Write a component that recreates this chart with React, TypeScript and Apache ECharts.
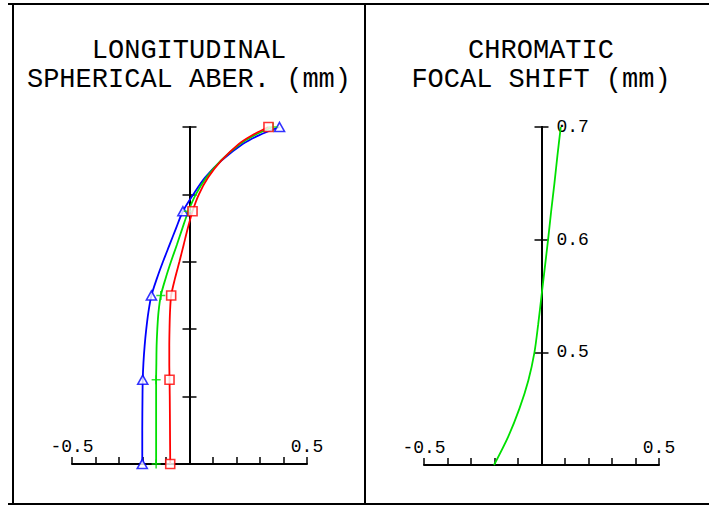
import React, { useEffect, useRef } from 'react';
import * as echarts from 'echarts';

// ---- Longitudinal spherical aberration (normalized pupil vs focus shift, mm)
const pupil = [0, 0.1, 0.2, 0.25, 0.3, 0.35, 0.4, 0.45, 0.5, 0.55, 0.6, 0.65, 0.7, 0.75, 0.8, 0.85, 0.9, 0.95, 0.975, 1.0];
const blueShift = [-0.201, -0.201, -0.2, -0.199, -0.196, -0.191, -0.184, -0.175, -0.162, -0.139, -0.113, -0.085, -0.057, -0.028, 0.016, 0.066, 0.136, 0.228, 0.295, 0.383];
const greenShift = [-0.142, -0.142, -0.142, -0.142, -0.141, -0.14, -0.137, -0.132, -0.122, -0.102, -0.079, -0.054, -0.03, -0.005, 0.027, 0.072, 0.133, 0.216, 0.275, 0.355];
const redShift = [-0.082, -0.083, -0.084, -0.085, -0.086, -0.086, -0.085, -0.083, -0.078, -0.062, -0.043, -0.025, -0.007, 0.013, 0.04, 0.079, 0.135, 0.21, 0.265, 0.336];
const markerPupil = [0, 0.25, 0.5, 0.75, 1.0];

// ---- Chromatic focal shift (wavelength um vs focus shift, mm)
const wavelength = [0.4, 0.425, 0.45, 0.475, 0.5, 0.525, 0.55, 0.575, 0.6, 0.625, 0.65, 0.675, 0.7];
const focalShift = [-0.202, -0.142, -0.094, -0.056, -0.03, -0.014, 0.0, 0.014, 0.028, 0.041, 0.055, 0.068, 0.082];

const titleLeft = ['LONGITUDINAL', 'SPHERICAL ABER. (mm)'];
const titleRight = ['CHROMATIC', 'FOCAL SHIFT (mm)'];

const FONT = '"Liberation Mono", "DejaVu Sans Mono", monospace';
const BLUE = '#0000ff';
const GREEN = '#00e000';
const RED = '#ff0000';

const GRID_W = 235;

function xAxisFor(gridIndex: number) {
  return {
    type: 'value',
    gridIndex,
    min: -0.5,
    max: 0.5,
    interval: 0.1,
    position: 'bottom',
    axisLine: { show: true, onZero: false, lineStyle: { color: '#000', width: 2 } },
    axisTick: { show: true, inside: true, length: 7, lineStyle: { color: '#000', width: 1.5 } },
    axisLabel: {
      show: true,
      inside: true,
      margin: 8,
      color: '#000',
      fontFamily: FONT,
      fontSize: 18,
      formatter: (v: number) => (Math.abs(Math.abs(v) - 0.5) < 1e-6 ? v.toFixed(1) : ''),
    },
    splitLine: { show: false },
  };
}

function yAxisFor(gridIndex: number, min: number, max: number, interval: number, inside: boolean, labels: boolean) {
  return {
    type: 'value',
    gridIndex,
    min,
    max,
    interval,
    position: 'left',
    offset: -GRID_W / 2,
    axisLine: { show: true, onZero: false, lineStyle: { color: '#000', width: 2 } },
    axisTick: { show: true, inside, length: 7, lineStyle: { color: '#000', width: 1.5 } },
    axisLabel: labels
      ? {
          show: true,
          inside: true,
          margin: 15,
          color: '#000',
          fontFamily: FONT,
          fontSize: 18,
          formatter: (v: number) => (v > min + 1e-6 ? v.toFixed(1) : ''),
        }
      : { show: false },
    splitLine: { show: false },
  };
}

function curve(xs: number[]) {
  return pupil.map((p, i) => [xs[i], p]);
}
function marks(xs: number[]) {
  return pupil
    .map((p, i) => (markerPupil.indexOf(p) >= 0 ? [xs[i], p] : null))
    .filter((d) => d !== null);
}

function lineSeries(xs: number[], color: string) {
  return {
    type: 'line',
    xAxisIndex: 0,
    yAxisIndex: 0,
    data: curve(xs),
    smooth: 0.3,
    symbol: 'none',
    showSymbol: false,
    silent: true,
    lineStyle: { color, width: 1.8 },
    z: 3,
  };
}

function markerSeries(xs: number[], color: string, symbol: string, size: number | number[], fill: string) {
  return {
    type: 'scatter',
    xAxisIndex: 0,
    yAxisIndex: 0,
    data: marks(xs),
    symbol,
    symbolSize: size,
    silent: true,
    itemStyle: { color: fill, borderColor: color, borderWidth: 1.6 },
    z: 4,
  };
}

export default function App() {
  const ref = useRef<HTMLDivElement>(null);
  useEffect(() => {
    if (!ref.current) return;
    const chart = echarts.init(ref.current, null, { renderer: 'svg' });
    const frame = { stroke: '#000', lineWidth: 2 };
    const titleStyle = (text: string) => ({
      text,
      fontSize: 27,
      fontFamily: FONT,
      fill: '#000',
      align: 'center',
      verticalAlign: 'middle',
    });
    chart.setOption({
      animation: false,
      backgroundColor: '#fff',
      grid: [
        { left: 72, top: 127, width: GRID_W, height: 337, containLabel: false, outerBoundsMode: 'none' },
        { left: 424, top: 127, width: GRID_W, height: 338, containLabel: false, outerBoundsMode: 'none' },
      ],
      xAxis: [xAxisFor(0), xAxisFor(1)],
      yAxis: [
        yAxisFor(0, 0, 1, 0.2, true, false),
        yAxisFor(0, 0, 1, 0.2, false, false),
        yAxisFor(1, 0.4, 0.7, 0.1, true, true),
        yAxisFor(1, 0.4, 0.7, 0.1, false, false),
      ],
      series: [
        lineSeries(blueShift, BLUE),
        lineSeries(greenShift, GREEN),
        lineSeries(redShift, RED),
        markerSeries(blueShift, BLUE, 'triangle', [10, 9], '#fff'),
        markerSeries(greenShift, GREEN, 'path://M5,0L5,10M0,5L10,5', 9, 'none'),
        markerSeries(redShift, RED, 'rect', 9, '#fff'),
        {
          type: 'line',
          xAxisIndex: 1,
          yAxisIndex: 2,
          data: wavelength.map((w, i) => [focalShift[i], w]),
          smooth: 0.3,
          symbol: 'none',
          showSymbol: false,
          silent: true,
          lineStyle: { color: GREEN, width: 1.8 },
          z: 3,
        },
      ],
      graphic: [
        { type: 'line', shape: { x1: 8, y1: 4, x2: 709, y2: 4 }, style: frame },
        { type: 'line', shape: { x1: 8, y1: 504, x2: 709, y2: 504 }, style: frame },
        { type: 'line', shape: { x1: 13, y1: 4, x2: 13, y2: 504 }, style: frame },
        { type: 'line', shape: { x1: 365, y1: 4, x2: 365, y2: 504 }, style: frame },
        { type: 'text', x: 189, y: 51, style: titleStyle(titleLeft[0]) },
        { type: 'text', x: 189, y: 80, style: titleStyle(titleLeft[1]) },
        { type: 'text', x: 541, y: 51, style: titleStyle(titleRight[0]) },
        { type: 'text', x: 541, y: 80, style: titleStyle(titleRight[1]) },
      ],
    });
    return () => chart.dispose();
  }, []);
  return (
    <div
      ref={ref}
      style={{ position: 'absolute', left: 0, top: 0, width: 709, height: 506, background: '#fff' }}
    />
  );
}
